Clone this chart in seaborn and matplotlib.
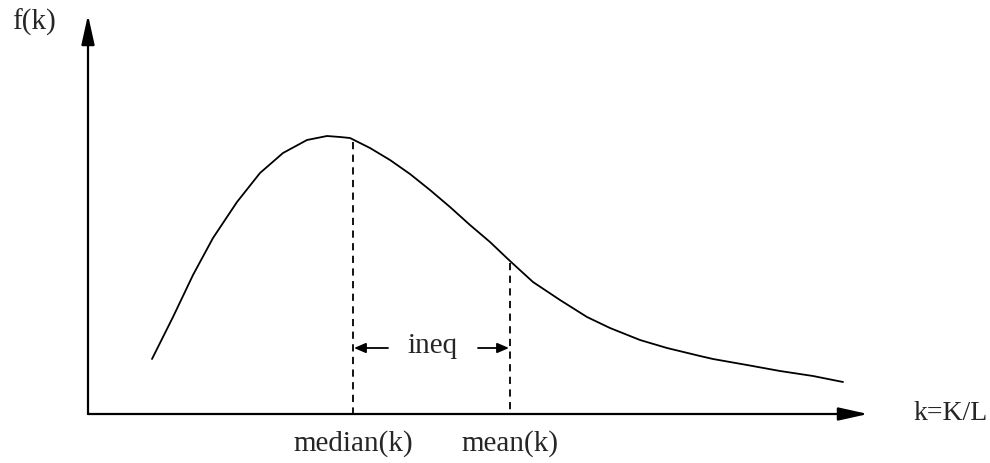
import numpy as np
import pandas as pd
import seaborn as sns
import matplotlib.pyplot as plt

# curve (pixel coordinates, y grows downward)
curve_x = [152, 173, 193, 213, 237, 260, 283, 307, 327, 340, 350, 370, 390, 410, 430, 450,
           470, 490, 510, 533, 560, 587, 610, 640, 667, 700, 713, 747, 780, 813, 843]
curve_y = [359, 317, 275, 238, 202, 173, 153, 140, 136, 137, 138, 148, 160, 174, 190, 207,
           225, 242, 261, 282, 300, 317, 328, 340, 348, 356, 359, 365, 371, 376, 382]

median_x, median_top = 353, 142
mean_x, mean_top = 510, 263
axis_origin = (88, 414)
axis_ends = (868, 15)

tick_labels = ["median(k)", "mean(k)"]

sns.set_theme(style="white")
plt.rcParams['font.family'] = ['Liberation Serif', 'DejaVu Serif']

fig = plt.figure(figsize=(9.9, 4.63), dpi=100)
ax = fig.add_axes([0, 0, 1, 1])
ax.set_xlim(0, 990)
ax.set_ylim(463, 0)
ax.axis("off")

df = pd.DataFrame({"x": curve_x, "y": curve_y})
sns.lineplot(data=df, x="x", y="y", ax=ax, color="black", linewidth=1.3, sort=False,
             solid_joinstyle="round", solid_capstyle="round")

# dashed guides
ax.plot([median_x, median_x], [median_top, axis_origin[1]], color="black", lw=1.3, ls=(0, (4, 3)))
ax.plot([mean_x, mean_x], [mean_top, axis_origin[1]], color="black", lw=1.3, ls=(0, (4, 3)))

# axes with arrow heads
big = dict(arrowstyle="-|>,head_length=0.9,head_width=0.2", color="black", lw=1.6,
           mutation_scale=20, shrinkA=0, shrinkB=0)
ax.annotate("", xy=(axis_ends[0], axis_origin[1]), xytext=(axis_origin[0], axis_origin[1]), arrowprops=big)
ax.annotate("", xy=(axis_origin[0], axis_ends[1]), xytext=(axis_origin[0], axis_origin[1]), arrowprops=big)

# ineq arrows
small = dict(arrowstyle="-|>,head_length=0.7,head_width=0.3", color="black", lw=1.3,
             mutation_scale=10, shrinkA=0, shrinkB=0)
ax.annotate("", xy=(median_x + 1, 348), xytext=(388, 348), arrowprops=small)
ax.annotate("", xy=(mean_x - 1, 348), xytext=(478, 348), arrowprops=small)
ax.text(433, 346, "ineq", fontsize=21, ha="center", va="center")

ax.text(12, 22, "f(k)", fontsize=21, ha="left", va="center")
ax.text(988, 414, "k=K/L", fontsize=20, ha="right", va="center")
ax.text(median_x, 444, tick_labels[0], fontsize=21, ha="center", va="center")
ax.text(mean_x, 444, tick_labels[1], fontsize=21, ha="center", va="center")

fig.savefig("out.png", dpi=100, facecolor="white")
